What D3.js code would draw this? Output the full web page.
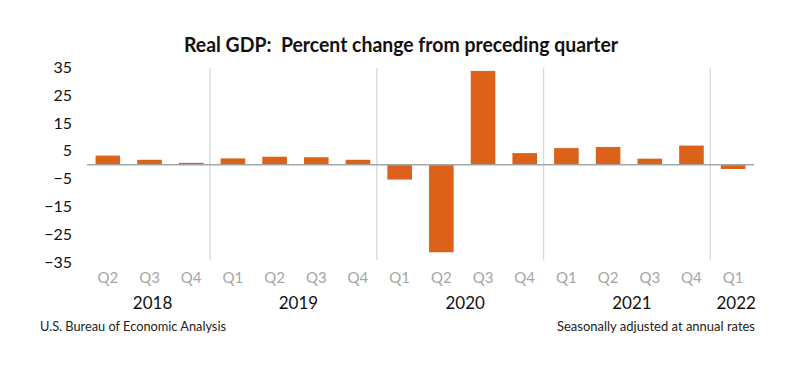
<!DOCTYPE html>
<html><head><meta charset="utf-8">
<script src="https://cdn.jsdelivr.net/npm/d3@7"></script>
<style>body{margin:0;background:#fff}svg{display:block}text{white-space:pre}</style>
</head><body>
<svg id="c" width="800" height="366"></svg>
<script>
const years = ["2018","2019","2020","2021","2022"];
const quarterYears = ["2018","2018","2018","2019","2019","2019","2019","2020","2020","2020","2020","2021","2021","2021","2021","2022"];
const quarterLabels = ["Q2","Q3","Q4","Q1","Q2","Q3","Q4","Q1","Q2","Q3","Q4","Q1","Q2","Q3","Q4","Q1"];
const values = [3.3, 1.8, 0.7, 2.3, 2.9, 2.7, 1.8, -5.3, -31.4, 33.7, 4.2, 6.0, 6.4, 2.2, 6.9, -1.5];
const yTicks = [35, 25, 15, 5, -5, -15, -25, -35];
const title = "Real GDP:  Percent change from preceding quarter";
const sourceNote = "U.S. Bureau of Economic Analysis";
const rateNote = "Seasonally adjusted at annual rates";

const svg = d3.select("#c");
const font = "Lato, 'Open Sans', sans-serif";
const idx = values.map((d,i)=>i);

const x = d3.scaleBand().domain(idx).range([87, 754]).paddingInner(0.41).paddingOuter(0.205);
const y = d3.scaleLinear().domain([-35, 35]).range([262.3, 67.3]);
const step = x.step();
const slotStart = i => x(i) - step*x.paddingInner()/2;

// title
svg.append("text").attr("x", 401).attr("y", 52).attr("text-anchor","middle")
  .attr("xml:space","preserve")
  .attr("font-family", font).attr("font-weight","bold").attr("font-size", 20)
  .attr("fill","#111").attr("textLength", 434).attr("lengthAdjust","spacingAndGlyphs")
  .text(title);

// year separators
const sepIdx = idx.filter(i => i>0 && quarterYears[i] !== quarterYears[i-1]);
svg.selectAll("line.sep").data(sepIdx).join("line")
  .attr("x1", i=>slotStart(i)-2).attr("x2", i=>slotStart(i)-2)
  .attr("y1", y(35)+1).attr("y2", y(-35)-2)
  .attr("stroke","#d9d9d9").attr("stroke-width",1.3);

// y axis labels
const yAxis = d3.axisLeft(y).tickValues(yTicks).tickSize(0).tickPadding(0);
const gy = svg.append("g").attr("transform","translate(72,0)").call(yAxis);
gy.select(".domain").remove();
gy.selectAll("text").attr("font-family", font).attr("font-size", 16).attr("fill","#111");

// bars
svg.selectAll("rect.bar").data(values).join("rect")
  .attr("x", (d,i)=>x(i)).attr("width", x.bandwidth())
  .attr("y", d=>y(Math.max(0,d))).attr("height", d=>Math.abs(y(d)-y(0)))
  .attr("fill","#dc6119");

// zero line
svg.append("line").attr("x1", 87).attr("x2", 754).attr("y1", y(0)).attr("y2", y(0))
  .attr("stroke","#a6a6a6").attr("stroke-width",1.6);

// quarter labels
const xAxis = d3.axisBottom(x).tickFormat(i=>quarterLabels[i]).tickSize(0).tickPadding(0);
const gx = svg.append("g").attr("transform","translate(0,272)").call(xAxis);
gx.select(".domain").remove();
gx.selectAll("text").attr("font-family", font).attr("font-size", 15).attr("fill","#a6a6a6");

// year labels
const yearPos = years.map(yr => {
  const ii = idx.filter(i=>quarterYears[i]===yr);
  return d3.mean(ii, i=>x(i)+x.bandwidth()/2);
});
svg.selectAll("text.yr").data(years).join("text")
  .attr("x",(d,i)=>yearPos[i]+3).attr("y",309).attr("text-anchor","middle")
  .attr("font-family", font).attr("font-size", 17).attr("fill","#111").text(d=>d);

// notes
svg.append("text").attr("x",40).attr("y",331).attr("font-family",font).attr("font-size",13)
  .attr("fill","#222").attr("textLength",186).attr("lengthAdjust","spacingAndGlyphs").text(sourceNote);
svg.append("text").attr("x",755).attr("y",331).attr("text-anchor","end").attr("font-family",font).attr("font-size",13)
  .attr("fill","#222").attr("textLength",198).attr("lengthAdjust","spacingAndGlyphs").text(rateNote);
</script>
</body></html>
